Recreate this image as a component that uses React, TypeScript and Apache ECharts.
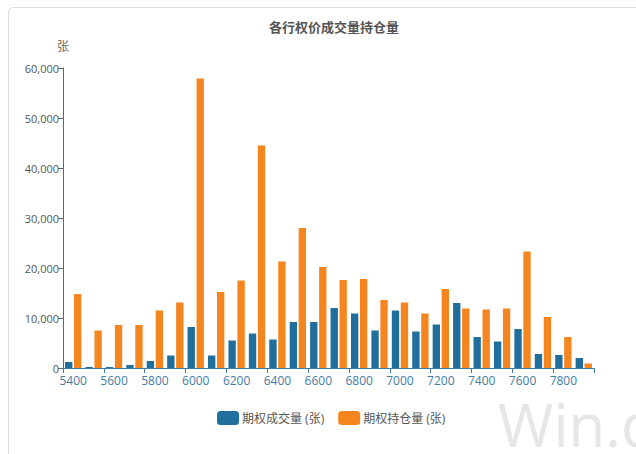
import React, { useEffect, useRef } from "react";
import * as echarts from "echarts";

const strikes = [
  "5400", "5500", "5600", "5700", "5800", "5900", "6000", "6100", "6200", "6300",
  "6400", "6500", "6600", "6700", "6800", "6900", "7000", "7100", "7200", "7300",
  "7400", "7500", "7600", "7700", "7800", "7900",
];
const volume = [
  1200, 200, 200, 600, 1400, 2500, 8200, 2500, 5500, 6900,
  5700, 9200, 9200, 12000, 10900, 7500, 11500, 7300, 8700, 13000,
  6200, 5300, 7800, 2800, 2600, 2000,
];
const openInterest = [
  14800, 7500, 8600, 8600, 11500, 13100, 57900, 15200, 17500, 44500,
  21300, 28000, 20200, 17600, 17800, 13600, 13100, 10900, 15800, 11900,
  11700, 11900, 23300, 10200, 6200, 900,
];
const seriesNames = ["期权成交量 (张)", "期权持仓量 (张)"];
const titleText = "各行权价成交量持仓量";
const yUnit = "张";

const FONT = "'Open Sans', 'Noto Sans CJK SC', sans-serif";

export default function App() {
  const ref = useRef<HTMLDivElement>(null);
  useEffect(() => {
    if (!ref.current) return;
    const chart = echarts.init(ref.current, undefined, { renderer: "svg" });
    chart.setOption({
      animation: false,
      backgroundColor: "#ffffff",
      textStyle: { fontFamily: FONT },
      title: {
        text: titleText,
        left: 329,
        top: 15,
        textAlign: "center",
        textStyle: { fontSize: 13, fontWeight: "bold", color: "#555", fontFamily: FONT },
      },
      graphic: [
        {
          type: "rect",
          z: -10,
          shape: { x: 8.5, y: 7.5, width: 700, height: 520, r: 5 },
          style: { fill: "none", stroke: "#dddddd", lineWidth: 1 },
        },
        {
          type: "text",
          z: -5,
          x: 498,
          y: 424,
          style: {
            text: "Win.d",
            fontSize: 60,
            lineHeight: 44,
            fontFamily: "'Open Sans', sans-serif",
            fill: "#e6e6e6",
            verticalAlign: "middle",
            align: "left",
          },
        },
      ],
      legend: {
        top: 406,
        left: 212,
        itemWidth: 22,
        itemHeight: 14,
        itemGap: 14,
        icon: "roundRect",
        textStyle: { fontSize: 12, color: "#555", fontFamily: FONT, padding: [0, 0, 0, -2] },
        data: seriesNames,
      },
      grid: { left: 63, right: 42, top: 68, bottom: 86, containLabel: false },
      xAxis: {
        type: "category",
        data: strikes,
        boundaryGap: true,
        axisLine: { lineStyle: { color: "#3f7ca6", width: 1 } },
        axisTick: { show: true, interval: 1, length: 5, lineStyle: { color: "#3f7ca6" } },
        axisLabel: { interval: 1, color: "#3f7ca6", fontSize: 12, margin: 6, fontFamily: FONT },
        splitLine: { show: false },
      },
      yAxis: {
        type: "value",
        min: 0,
        max: 60000,
        interval: 10000,
        name: yUnit,
        nameLocation: "end",
        nameGap: 16,
        nameTextStyle: { color: "#666", fontSize: 12, align: "center" },
        axisLine: { show: true, lineStyle: { color: "#666" } },
        axisTick: { show: true, length: 5, lineStyle: { color: "#666" } },
        axisLabel: {
          color: "#555",
          fontSize: 11,
          margin: 4,
          fontFamily: FONT,
          formatter: (v: number) => v.toLocaleString("en-US"),
        },
        splitLine: { show: false },
      },
      series: [
        {
          name: seriesNames[0],
          type: "bar",
          data: volume,
          itemStyle: { color: "#1f6e9c" },
          barGap: "22%",
          barCategoryGap: "20%",
        },
        {
          name: seriesNames[1],
          type: "bar",
          data: openInterest,
          itemStyle: { color: "#f5861f" },
          barGap: "22%",
          barCategoryGap: "20%",
        },
      ],
    });
    return () => chart.dispose();
  }, []);
  return (
    <div
      ref={ref}
      style={{ position: "fixed", left: 0, top: 0, width: 636, height: 454 }}
    />
  );
}
